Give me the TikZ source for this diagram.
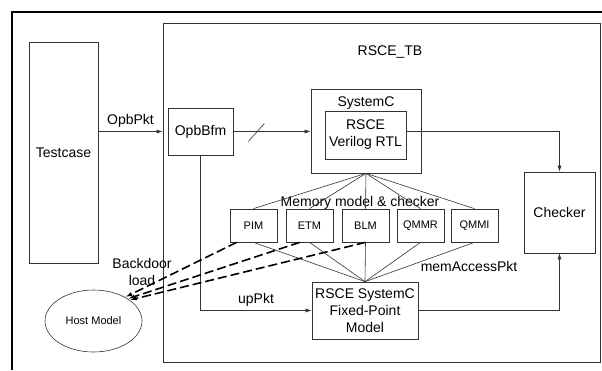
\documentclass[tikz,border=0pt]{standalone}
\usepackage{fontspec}
\setmainfont{Liberation Sans}
\usetikzlibrary{arrows.meta,shapes.geometric}
\tikzset{
  box/.style={draw=black!80,line width=0.7pt,align=center,inner sep=0pt},
  memory/.style={box,minimum width=47,minimum height=33,font=\fontsize{11}{13}\selectfont},
  link/.style={draw=black!80,line width=0.6pt},
  arr/.style={link,-{Latex[length=6pt,width=4pt]}},
  backdoor/.style={draw=black,line width=1.6pt,dash pattern=on 9pt off 4pt,-{Latex[length=7pt,width=4pt]}}
}

\begin{document}
\begin{tikzpicture}[x=1pt,y=-1pt,font=\fontsize{14}{17}\selectfont]
\useasboundingbox (0,0) rectangle (602,370);
% PAGE FRAME
\draw [line width=2.8pt] (12,370) -- (12,12) -- (602,12);
% TESTCASE AND TESTBENCH
\node [box,minimum width=69,minimum height=221] (testcase) at (63.5,152.5) {Testcase};
\node [box,minimum width=437,minimum height=339] (tb) at (381.5,192.5) {};
\node (tbname) at (390,52) {RSCE\_TB};
% BUS FUNCTIONAL MODEL
\node [box,minimum width=65,minimum height=47] (bfm) at (200.5,131.5) {OpbBfm};
% SYSTEMC WRAPPER WITH RTL
\node [box,minimum width=110,minimum height=84] (sysc) at (366,131) {};
\node (scname) at (366,103) {SystemC};
\node [box,minimum width=81,minimum height=48] (rtl) at (365.5,135) {RSCE\\Verilog RTL};
% CHECKER
\node [box,minimum width=71,minimum height=81] (checker) at (559.5,212.5) {Checker};
% MEMORY MODELS
\node [memory] (pim) at (253.5,225.5) {PIM};
\node [memory] (etm) at (309.5,225.5) {ETM};
\node [memory] (blm) at (365.5,225.5) {BLM};
\node [memory] (qmmr) at (420.5,225.5) {QMMR};
\node [memory] (qmmi) at (474.5,225.5) {QMMI};
\node (memname) at (360,203) {Memory model \& checker};
% FIXED-POINT MODEL
\node [box,minimum width=106,minimum height=57] (fixed) at (365,310.5) {RSCE SystemC\\Fixed-Point\\Model};
% HOST
\node [ellipse,draw=black!80,line width=0.6pt,minimum width=97,minimum height=62,inner sep=0pt,
  font=\fontsize{11}{13}\selectfont] (host) at (93.5,321) {Host Model};
% CONNECTIONS
\draw [arr] (testcase.east |- bfm) -- node [above] {OpbPkt} (tb.west |- bfm);
\draw [arr] (bfm.east) -- (bfm.east -| sysc.west);
\draw [link] (bfm.east) ++(15,10) -- ++(16,-18);
\draw [arr] (rtl.east |- sysc) -| (checker.north);
\foreach \m in {pim,etm,blm,qmmr,qmmi} {
  \draw [link] (sysc.south) -- (\m.north);
  \draw [link] (\m.south) -- (fixed.north);
}
\draw [arr] (bfm.south) |- node [pos=0.75,above] {upPkt} (fixed.west);
\draw [arr] (fixed.east) -| (checker.south);
\node (accname) at (469,266) {memAccessPkt};
% BACKDOOR LOAD
\draw [backdoor] (pim.225) -- (host.37);
\draw [backdoor] (etm.240) -- (host.33);
\draw [backdoor] (blm.south) -- (host.30);
\node [align=center] (bdname) at (142,271.5) {Backdoor\\load};
\end{tikzpicture}
\end{document}
